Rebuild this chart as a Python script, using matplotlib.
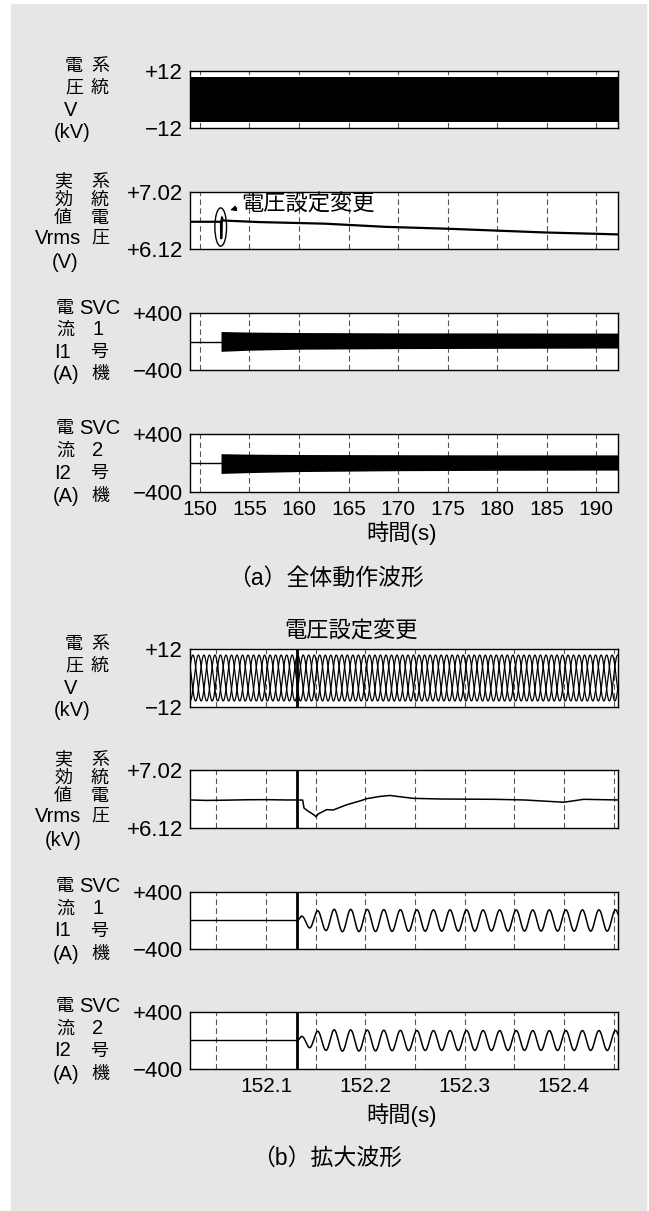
import numpy as np
import matplotlib
matplotlib.use('Agg')
import matplotlib.pyplot as plt
from matplotlib.patches import Ellipse, Rectangle
from matplotlib.ticker import MultipleLocator

plt.rcParams['font.family'] = ['Liberation Sans', 'Noto Sans CJK JP']

# ---- data ----
# (a) whole run
xlim_a = (149.0, 192.2)
xticks_a = [150, 155, 160, 165, 170, 175, 180, 185, 190]
volt_env_t = [149.0, 192.2]
volt_env_hi = [9.5, 9.5]
volt_env_lo = [-9.5, -9.5]

vrms_a_t = [149.0, 152.13, 152.138, 152.143, 152.150, 152.156, 152.168, 152.20,
            152.225, 152.30, 156.0, 162.6, 168.7, 175.0, 180.0, 185.0, 190.0, 192.2]
vrms_a_v = [6.55, 6.55, 6.43, 6.38, 6.29, 6.36, 6.40, 6.57,
            6.62, 6.57, 6.545, 6.52, 6.47, 6.44, 6.41, 6.38, 6.36, 6.35]

svc_pre_t = [149.0, 152.13]
svc_pre_v = [0, 0]
svc_env_t = [152.13, 155.0, 160.0, 170.0, 180.0, 192.2]
svc1_hi = [140, 132, 126, 121, 120, 118]
svc1_lo = [-138, -122, -108, -100, -96, -92]
svc2_hi = [128, 122, 117, 114, 112, 112]
svc2_lo = [-144, -132, -118, -106, -101, -98]

# (b) zoomed
xlim_b = (152.0235, 152.4545)
xticks_b = [152.1, 152.2, 152.3, 152.4]
step_t = 152.1315
f_sys = 60.0          # Hz
v_amp = 9.5           # kV
v_phase_deg = [0, 120, 240]

vrms_b_t = [152.0235, 152.04, 152.06, 152.08, 152.10, 152.12, 152.1315, 152.137,
            152.1383, 152.1426, 152.1477, 152.1504, 152.1527, 152.1561, 152.1611,
            152.1678, 152.1728, 152.1812, 152.1947, 152.2014, 152.2148, 152.2249,
            152.2349, 152.2483, 152.2752, 152.30, 152.33, 152.36, 152.40, 152.42,
            152.4545]
vrms_b_v = [6.555, 6.548, 6.552, 6.558, 6.56, 6.555, 6.555, 6.553,
            6.43, 6.38, 6.33, 6.295, 6.34, 6.365, 6.405,
            6.40, 6.43, 6.48, 6.54, 6.575, 6.61, 6.625,
            6.605, 6.58, 6.57, 6.568, 6.565, 6.555, 6.52, 6.565,
            6.555]

svc_peak_t = 152.152  # a current peak after the step
svc_env_b_t = [152.1315, 152.1353, 152.1437, 152.152, 152.16, 152.168, 152.25, 152.35, 152.4545]
svc1_env_b = [0, 60, 105, 138, 140, 158, 150, 148, 150]
svc2_env_b = [0, 55, 100, 130, 138, 150, 140, 138, 140]
svc_pre_b = 5

W, H = 649, 1211
fig = plt.figure(figsize=(W / 100, H / 100), dpi=100)
fig.patches.append(Rectangle((11 / W, 0), (646 - 11) / W, (H - 4) / H,
                             transform=fig.transFigure, color='#e6e6e6', zorder=-10))

YTICK_FS = 16
XTICK_FS = 15
LAB_FS = 14.5   # latin parts of the y labels
CJK_FS = 13     # single kanji of the y labels


def make_ax(top, bottom):
    ax = fig.add_axes([190 / W, 1 - bottom / H, 428 / W, (bottom - top) / H])
    ax.set_facecolor('white')
    for s in ax.spines.values():
        s.set_linewidth(1.0)
    ax.tick_params(length=0)
    ax.tick_params(axis='y', pad=5, labelsize=YTICK_FS)
    ax.tick_params(axis='x', pad=6, labelsize=XTICK_FS)
    return ax


def ylim_ticks(ax, lo, hi, labels):
    ax.set_ylim(lo, hi)
    ax.set_yticks([lo, hi])
    ax.set_yticklabels(labels)


def grid(ax):
    ax.grid(True, axis='x', which='both', color='#555555', lw=0.8,
            linestyle=(0, (5, 3)))


def ftext(x, y, s, fs=None, **kw):
    if fs is None:
        fs = CJK_FS if ord(s[0]) > 0x3000 else LAB_FS
    fig.text(x / W, 1 - y / H, s, ha='center', va='center', fontsize=fs, **kw)


def ylabel_a1(dy):
    for s, x, y in [('電', 74, 67), ('系', 100, 67), ('圧', 74, 88), ('統', 100, 88),
                    ('V', 71, 110), ('(kV)', 72, 133)]:
        ftext(x, y + dy, s)


def ylabel_a2(dy, unit):
    for s, x, y in [('実', 63, 182), ('系', 100, 182), ('効', 63, 200), ('統', 100, 200),
                    ('値', 63, 218), ('電', 100, 218), ('Vrms', 58, 238), ('圧', 100, 238),
                    (unit, 65 if unit == '(V)' else 63, 263)]:
        ftext(x, y + dy, s)


def ylabel_svc(dy, n):
    for s, x, y in [('電', 65, 308), ('SVC', 100, 308), ('流', 65, 330), (str(n), 98, 330),
                    ('I' + str(n), 62, 352), ('号', 99, 352), ('(A)', 66, 375), ('機', 100, 375)]:
        ftext(x, y + dy, s)


# ---------------- (a) ----------------
a1 = make_ax(71, 128)
a2 = make_ax(192, 249)
a3 = make_ax(313, 370)
a4 = make_ax(434, 492)
for ax in (a1, a2, a3, a4):
    ax.set_xlim(*xlim_a)
    ax.set_xticks(xticks_a)
    grid(ax)
    if ax is not a4:
        ax.set_xticklabels([])

a1.fill_between(volt_env_t, volt_env_lo, volt_env_hi, color='k', lw=0, zorder=3)
ylim_ticks(a1, -12, 12, ['−12', '+12'])

a2.plot(vrms_a_t, vrms_a_v, color='k', lw=1.6, zorder=3)
ylim_ticks(a2, 6.12, 7.02, ['+6.12', '+7.02'])
a2.add_patch(Ellipse((152.1, 6.467), 1.18, 0.604, fill=False, lw=1.0, color='k', zorder=4))
a2.annotate('', xy=(152.8, 6.72), xytext=(154.0, 6.78),
            arrowprops=dict(arrowstyle='-|>', lw=0.9, color='k', mutation_scale=8))
a2.text(154.15, 6.81, '電圧設定変更', ha='left', va='center', fontsize=16)

for ax, hi, lo in ((a3, svc1_hi, svc1_lo), (a4, svc2_hi, svc2_lo)):
    ax.plot(svc_pre_t, svc_pre_v, color='k', lw=1.0, zorder=3)
    ax.fill_between(svc_env_t, lo, hi, color='k', lw=0, zorder=3)
    ylim_ticks(ax, -400, 400, ['−400', '+400'])

a4.set_xticklabels([str(v) for v in xticks_a])
ftext(402, 533, '時間(s)', fs=16)
ftext(326, 578, '（a）全体動作波形', fs=16.5)

ylabel_a1(0)
ylabel_a2(0, '(V)')
ylabel_svc(0, 1)
ylabel_svc(121, 2)

# ---------------- (b) ----------------
b1 = make_ax(649, 707)
b2 = make_ax(770, 828)
b3 = make_ax(892, 949)
b4 = make_ax(1012, 1069)
for ax in (b1, b2, b3, b4):
    ax.set_xlim(*xlim_b)
    ax.set_xticks(xticks_b)
    ax.xaxis.set_minor_locator(MultipleLocator(0.05))
    ax.tick_params(which='minor', length=0)
    grid(ax)
    ax.axvline(step_t, color='k', lw=2.0, zorder=5)
    if ax is not b4:
        ax.set_xticklabels([])

tb = np.linspace(xlim_b[0], xlim_b[1], 6000)
for ph in v_phase_deg:
    b1.plot(tb, v_amp * np.sin(2 * np.pi * f_sys * tb + np.deg2rad(ph)), color='k', lw=0.9, zorder=3)
ylim_ticks(b1, -12, 12, ['−12', '+12'])

b2.plot(vrms_b_t, vrms_b_v, color='k', lw=1.1, zorder=3)
ylim_ticks(b2, 6.12, 7.02, ['+6.12', '+7.02'])

for ax, env in ((b3, svc1_env_b), (b4, svc2_env_b)):
    ts = tb[tb >= step_t]
    amp = np.interp(ts, svc_env_b_t, env)
    cur = amp * np.cos(2 * np.pi * f_sys * (ts - svc_peak_t))
    ax.plot([xlim_b[0], step_t], [svc_pre_b, svc_pre_b], color='k', lw=1.0, zorder=3)
    ax.plot(ts, cur, color='k', lw=1.1, zorder=3)
    ylim_ticks(ax, -400, 400, ['−400', '+400'])

b4.set_xticklabels([str(v) for v in xticks_b])
ftext(351, 632, '電圧設定変更', fs=16)
ftext(402, 1115, '時間(s)', fs=16)
ftext(327, 1158, '（b）拡大波形', fs=16.5)

ylabel_a1(578)
ylabel_a2(578, '(kV)')
ylabel_svc(579, 1)
ylabel_svc(699, 2)

fig.savefig('out.png', dpi=100, facecolor='white')
